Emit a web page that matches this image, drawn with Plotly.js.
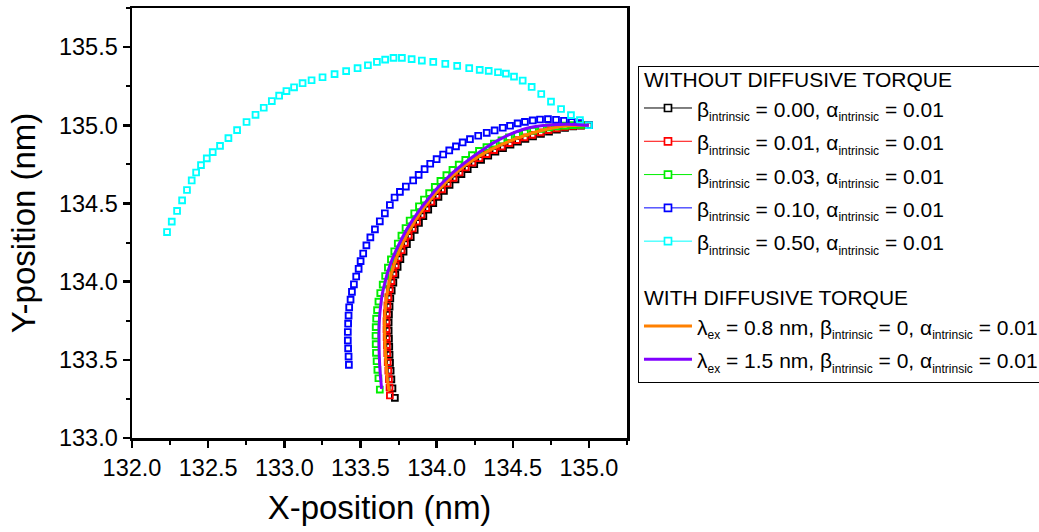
<!DOCTYPE html>
<html>
<head>
<meta charset="utf-8">
<script src="https://cdn.plot.ly/plotly-3.0.1.min.js"></script>
<style>html,body{margin:0;padding:0;background:#fff;}#chart{width:1039px;height:532px;}</style>
</head>
<body>
<div id="chart"></div>
<script>
// ---- data (nm) ----
const blackX = [135.000,134.948,134.896,134.843,134.790,134.738,134.685,134.633,134.583,134.534,134.485,134.436,134.386,134.339,134.292,134.247,134.204,134.163,134.124,134.085,134.048,134.012,133.978,133.945,133.913,133.884,133.856,133.830,133.805,133.783,133.762,133.744,133.729,133.716,133.705,133.696,133.691,133.687,133.685,133.685,133.687,133.689,133.691,133.694,133.698,133.703,133.710,133.726];
const blackY = [135.000,134.998,134.992,134.983,134.972,134.960,134.945,134.929,134.913,134.895,134.876,134.854,134.831,134.806,134.779,134.751,134.720,134.688,134.654,134.618,134.581,134.542,134.502,134.461,134.419,134.375,134.331,134.285,134.239,134.192,134.144,134.095,134.045,133.994,133.943,133.892,133.840,133.789,133.738,133.686,133.635,133.584,133.532,133.481,133.430,133.375,133.318,133.257];

const redX = [135.000,134.947,134.894,134.841,134.788,134.735,134.682,134.629,134.578,134.528,134.478,134.428,134.377,134.329,134.281,134.235,134.191,134.150,134.111,134.072,134.035,133.999,133.965,133.932,133.900,133.871,133.843,133.817,133.792,133.770,133.749,133.731,133.716,133.703,133.692,133.683,133.677,133.673,133.671,133.671,133.672,133.674,133.676,133.679,133.683,133.687,133.691,133.693];
const redY = [135.000,134.999,134.996,134.990,134.980,134.969,134.955,134.939,134.923,134.905,134.886,134.864,134.841,134.816,134.789,134.761,134.730,134.698,134.664,134.628,134.590,134.551,134.511,134.470,134.428,134.384,134.340,134.294,134.248,134.201,134.153,134.104,134.054,134.003,133.952,133.901,133.849,133.798,133.747,133.696,133.645,133.594,133.543,133.485,133.430,133.376,133.323,133.272];

const greenX = [135.000,134.948,134.896,134.843,134.790,134.738,134.685,134.633,134.580,134.528,134.475,134.426,134.376,134.327,134.278,134.232,134.188,134.145,134.104,134.064,134.025,133.988,133.951,133.917,133.884,133.853,133.823,133.796,133.769,133.745,133.722,133.700,133.680,133.662,133.646,133.630,133.618,133.609,133.603,133.600,133.599,133.600,133.602,133.606,133.611,133.618,133.627];
const greenY = [135.000,135.003,135.001,134.998,134.993,134.986,134.977,134.966,134.953,134.938,134.922,134.903,134.883,134.860,134.836,134.809,134.779,134.748,134.715,134.681,134.644,134.606,134.566,134.525,134.482,134.437,134.391,134.343,134.294,134.244,134.194,134.142,134.089,134.036,133.981,133.927,133.872,133.818,133.763,133.709,133.654,133.600,133.545,133.491,133.436,133.382,133.310];

const blueX = [135.000,134.942,134.887,134.836,134.784,134.731,134.679,134.631,134.580,134.532,134.482,134.434,134.381,134.329,134.273,134.219,134.171,134.127,134.083,134.043,134.000,133.958,133.921,133.882,133.846,133.798,133.759,133.724,133.693,133.660,133.627,133.595,133.565,133.539,133.518,133.501,133.488,133.472,133.457,133.444,133.435,133.426,133.422,133.419,133.417,133.417,133.419,133.422,133.424];
const blueY = [135.000,135.014,135.022,135.029,135.035,135.039,135.037,135.031,135.022,135.012,134.997,134.984,134.967,134.952,134.933,134.911,134.890,134.865,134.839,134.813,134.783,134.754,134.719,134.683,134.647,134.608,134.574,134.538,134.490,134.437,134.386,134.334,134.283,134.232,134.180,134.131,134.082,134.033,133.983,133.935,133.885,133.836,133.783,133.731,133.678,133.624,133.573,133.521,133.468];

const cyanX = [135.000,134.941,134.882,134.817,134.751,134.687,134.624,134.565,134.508,134.455,134.403,134.342,134.283,134.214,134.135,134.057,133.978,133.903,133.836,133.772,133.717,133.662,133.608,133.549,133.481,133.406,133.330,133.251,133.179,133.120,133.064,133.014,132.966,132.918,132.865,132.811,132.752,132.690,132.633,132.578,132.530,132.491,132.453,132.421,132.392,132.361,132.329,132.296,132.261,132.230];
const cyanY = [135.000,135.033,135.065,135.104,135.151,135.200,135.245,135.286,135.311,135.330,135.339,135.348,135.354,135.365,135.380,135.393,135.405,135.414,135.423,135.431,135.431,135.420,135.405,135.384,135.365,135.346,135.327,135.307,135.288,135.269,135.243,135.219,135.189,135.155,135.112,135.067,135.021,134.969,134.918,134.868,134.828,134.788,134.745,134.698,134.647,134.586,134.520,134.452,134.384,134.317];

const orangeX = [135.000,134.894,134.788,134.680,134.574,134.472,134.370,134.273,134.182,134.101,134.025,133.955,133.890,133.833,133.781,133.738,133.704,133.680,133.665,133.659,133.660,133.664,133.671,133.680,133.690];
const orangeY = [135.000,134.998,134.988,134.965,134.933,134.896,134.851,134.798,134.739,134.672,134.598,134.518,134.434,134.345,134.252,134.155,134.055,133.952,133.849,133.747,133.645,133.543,133.440,133.350,133.298];

const purpleX = [135.000,134.922,134.843,134.764,134.685,134.606,134.528,134.449,134.376,134.304,134.238,134.173,134.110,134.051,133.995,133.943,133.894,133.848,133.805,133.769,133.735,133.704,133.679,133.659,133.642,133.632,133.625,133.622,133.622,133.623,133.626,133.631,133.639];
const purpleY = [135.000,135.004,135.006,135.003,134.997,134.984,134.960,134.928,134.889,134.844,134.799,134.751,134.700,134.645,134.588,134.527,134.466,134.402,134.337,134.270,134.203,134.132,134.062,133.988,133.914,133.840,133.767,133.693,133.619,133.545,133.471,133.398,133.314];

const betaValues = ['0.00', '0.01', '0.03', '0.10', '0.50'];
const alphaValue = '0.01';
const lambdaValues = ['0.8', '1.5'];
const groupTitles = ['WITHOUT DIFFUSIVE TORQUE', 'WITH DIFFUSIVE TORQUE'];
const xTitle = 'X-position (nm)';
const yTitle = 'Y-position (nm)';

// ---- text helpers ----
const sub = s => '<sub><span style="font-size:12px">' + s + '</span></sub>';
const wrap = s => '<span style="font-size:21px">' + s + '</span>';
const squareNames = betaValues.map(b => wrap('β' + sub('intrinsic') + ' = ' + b + ', α' + sub('intrinsic') + ' = ' + alphaValue));
const lineNames = lambdaValues.map(l => wrap('λ' + sub('ex') + ' = ' + l + ' nm, β' + sub('intrinsic') + ' = 0, α' + sub('intrinsic') + ' = ' + alphaValue));

// ---- styles ----
const FONT = 'Liberation Sans, Arial, sans-serif';
const LEG_SIZE = 23.3;     // sets legend row pitch; visible text is 21px
const GT_SIZE = 12.7;      // sets group-title row pitch; visible text is 21px
const sqColors = ['#000000', '#ff0000', '#00ee00', '#0000ff', '#00ffff'];
const sqData = [[blackX, blackY], [redX, redY], [greenX, greenY], [blueX, blueY], [cyanX, cyanY]];

const traces = [];
sqData.forEach((d, i) => {
  traces.push({
    type: 'scatter', mode: 'markers', x: d[0], y: d[1],
    showlegend: false, legendgroup: 'without', hoverinfo: 'skip',
    marker: {symbol: 'square-open', size: 5.8, color: sqColors[i], line: {color: sqColors[i], width: 1.9}}
  });
});
sqData.forEach((d, i) => {
  const t = {
    type: 'scatter', mode: 'lines+markers', x: [null], y: [null],
    name: squareNames[i], legendgroup: 'without', showlegend: true,
    line: {color: sqColors[i], width: 1},
    marker: {symbol: 'square', size: 7, color: '#ffffff', line: {color: sqColors[i], width: 1.7}}
  };
  if (i === 0) t.legendgrouptitle = {text: wrap(groupTitles[0]), font: {size: GT_SIZE, family: FONT, color: '#000'}};
  traces.push(t);
});
traces.push({
  type: 'scatter', mode: 'lines', x: orangeX, y: orangeY, name: lineNames[0],
  legendgroup: 'with', legendgrouptitle: {text: wrap(groupTitles[1]), font: {size: GT_SIZE, family: FONT, color: '#000'}},
  line: {color: '#ff8000', width: 3, shape: 'spline'}
});
traces.push({
  type: 'scatter', mode: 'lines', x: purpleX, y: purpleY, name: lineNames[1],
  legendgroup: 'with',
  line: {color: '#8000ff', width: 3, shape: 'spline'}
});

const axisCommon = {
  showgrid: false, zeroline: false, showline: true, linecolor: '#000', linewidth: 2.5,
  mirror: true, ticks: 'outside', ticklen: 7, tickwidth: 2.5, tickcolor: '#000',
  tickfont: {family: FONT, size: 23.5, color: '#000'}, tickformat: '.1f', dtick: 0.5,
  minor: {ticks: 'outside', ticklen: 4, tickwidth: 2, tickcolor: '#000', dtick: 0.25, showgrid: false}
};

const layout = {
  width: 1039, height: 532,
  paper_bgcolor: '#fff', plot_bgcolor: '#fff',
  margin: {l: 132, r: 412, t: 8, b: 94, autoexpand: false},
  font: {family: FONT, color: '#000'},
  xaxis: Object.assign({}, axisCommon, {range: [132, 135.25], tick0: 132,
    title: {text: xTitle, font: {family: FONT, size: 33, color: '#000'}, standoff: 16}}),
  yaxis: Object.assign({}, axisCommon, {range: [133, 135.75], tick0: 133,
    title: {text: yTitle, font: {family: FONT, size: 33, color: '#000'}, standoff: 14}}),
  showlegend: true,
  legend: {
    x: 1.0222, xanchor: 'left', y: 0.8655, yanchor: 'top',
    bordercolor: '#000', borderwidth: 1, bgcolor: '#fff',
    font: {family: FONT, size: LEG_SIZE, color: '#000'},
    itemwidth: 48, tracegroupgap: 32, traceorder: 'grouped', itemclick: false
  }
};

Plotly.newPlot('chart', traces, layout, {displayModeBar: false, staticPlot: true});
</script>
</body>
</html>
